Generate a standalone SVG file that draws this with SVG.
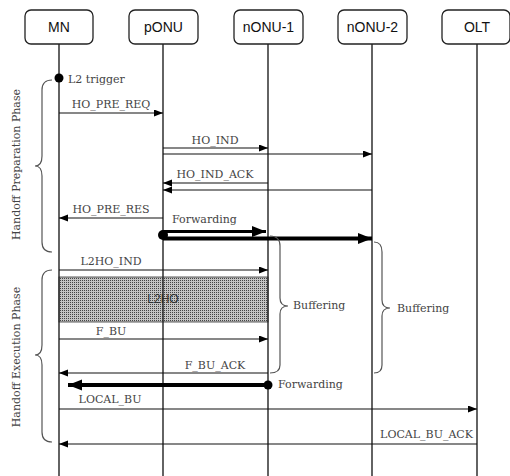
<svg xmlns="http://www.w3.org/2000/svg" width="510" height="476" viewBox="0 0 510 476">
<style>
.box{fill:#fff;stroke:#222;stroke-width:1.3}
.nl{font-family:"Liberation Sans",Arial,sans-serif;font-size:14px;fill:#111;text-anchor:middle}
.life{stroke:#222;stroke-width:1.4}
.msg{stroke:#111;stroke-width:1.2;fill:none;marker-end:url(#ah)}
.fw{stroke:#000;fill:none;marker-end:url(#ahb)}
.lbl{font-family:"DejaVu Serif","Liberation Serif",serif;font-size:11px;fill:#444}
.mid{text-anchor:middle}
.brace{stroke:#555;stroke-width:1.2;fill:none}
</style>
<defs>
<marker id="ah" markerUnits="userSpaceOnUse" markerWidth="10" markerHeight="8" refX="9" refY="3.5" orient="auto"><path d="M0,0 L9,3.5 L0,7 z" fill="#000"/></marker>
<marker id="ahb" markerUnits="userSpaceOnUse" markerWidth="16" markerHeight="12" refX="14" refY="5.5" orient="auto"><path d="M0,0 L14,5.5 L0,11 z" fill="#000"/></marker>
<pattern id="dots" patternUnits="userSpaceOnUse" width="2" height="2"><rect width="2" height="2" fill="#c4c4c4"/><rect width="1" height="1" fill="#444"/></pattern>
</defs>

<g id="MN"><rect class="box" x="25" y="10" width="68" height="34" rx="6"/><text class="nl" x="59" y="32">MN</text></g>
<g id="pONU"><rect class="box" x="129" y="10" width="69" height="34" rx="6"/><text class="nl" x="163.5" y="32">pONU</text></g>
<g id="nONU-1"><rect class="box" x="234" y="10" width="69" height="34" rx="6"/><text class="nl" x="268.5" y="32">nONU-1</text></g>
<g id="nONU-2"><rect class="box" x="338" y="10" width="69" height="34" rx="6"/><text class="nl" x="372.5" y="32">nONU-2</text></g>
<g id="OLT"><rect class="box" x="442" y="10" width="68" height="34" rx="6"/><text class="nl" x="477" y="32">OLT</text></g>

<g id="L2HO">
<rect x="59" y="277" width="209" height="45" fill="url(#dots)" stroke="#333" stroke-width="0.8"/>
<text x="163" y="303" font-family="Liberation Sans,Arial,sans-serif" font-size="12" fill="#333" text-anchor="middle">L2HO</text>
</g>

<g id="lifelines">
<line class="life" x1="59" y1="44" x2="59" y2="476"/>
<line class="life" x1="163" y1="44" x2="163" y2="476"/>
<line class="life" x1="268" y1="44" x2="268" y2="476"/>
<line class="life" x1="372" y1="44" x2="372" y2="476"/>
<line class="life" x1="477" y1="44" x2="477" y2="476"/>
</g>

<g id="connectors">
<circle cx="59" cy="78" r="4.5" fill="#000"/>
<line class="msg" x1="59" y1="113" x2="163" y2="113"/>
<line class="msg" x1="163" y1="148" x2="268" y2="148"/>
<line class="msg" x1="163" y1="154" x2="372" y2="154"/>
<line class="msg" x1="268" y1="183" x2="163" y2="183"/>
<line class="msg" x1="372" y1="190" x2="163" y2="190"/>
<line class="msg" x1="163" y1="218" x2="59" y2="218"/>
<line class="fw" stroke-width="3" x1="163" y1="231.5" x2="266" y2="231.5"/>
<line class="fw" stroke-width="4" x1="163" y1="238.5" x2="372" y2="238.5"/>
<circle cx="163" cy="235" r="5" fill="#000"/>
<line class="msg" x1="59" y1="270" x2="268" y2="270"/>
<line class="msg" x1="59" y1="339" x2="268" y2="339"/>
<line class="msg" x1="268" y1="373" x2="59" y2="373"/>
<line class="fw" stroke-width="4" x1="268" y1="385" x2="68" y2="385"/>
<circle cx="268" cy="385" r="4.5" fill="#000"/>
<line class="msg" x1="59" y1="409" x2="477" y2="409"/>
<line class="msg" x1="477" y1="444" x2="59" y2="444"/>
</g>

<g id="braces">
<path class="brace" d="M52,80 Q42,80 42,90 L42,156 Q42,166 35,166 Q42,166 42,176 L42,242 Q42,252 52,252"/>
<path class="brace" d="M52,270 Q42,270 42,280 L42,345 Q42,355 35,355 Q42,355 42,365 L42,432 Q42,442 52,442"/>
<path class="brace" d="M270,236 Q280,236 280,246 L280,298 Q280,306 288,306 Q280,306 280,314 L280,365 Q280,373 270,373"/>
<path class="brace" d="M374,242 Q382,242 382,252 L382,300 Q382,308 390,308 Q382,308 382,316 L382,365 Q382,373 374,373"/>
</g>

<g id="labels">
<text class="lbl" x="68" y="83">L2 trigger</text>
<text class="lbl mid" x="111" y="108">HO_PRE_REQ</text>
<text class="lbl mid" x="215" y="144">HO_IND</text>
<text class="lbl mid" x="215" y="178">HO_IND_ACK</text>
<text class="lbl mid" x="111" y="213">HO_PRE_RES</text>
<text class="lbl" x="172" y="223">Forwarding</text>
<text class="lbl mid" x="111" y="265">L2HO_IND</text>
<text class="lbl mid" x="111" y="335">F_BU</text>
<text class="lbl mid" x="215" y="369">F_BU_ACK</text>
<text class="lbl" x="278" y="388">Forwarding</text>
<text class="lbl mid" x="110" y="403">LOCAL_BU</text>
<text class="lbl" x="473" y="438" text-anchor="end">LOCAL_BU_ACK</text>
<text class="lbl" x="293" y="309">Buffering</text>
<text class="lbl" x="397" y="312">Buffering</text>
<text class="lbl mid" transform="translate(20,164.5) rotate(-90)">Handoff Preparation Phase</text>
<text class="lbl mid" transform="translate(20,357) rotate(-90)">Handoff Execution Phase</text>
</g>
</svg>
